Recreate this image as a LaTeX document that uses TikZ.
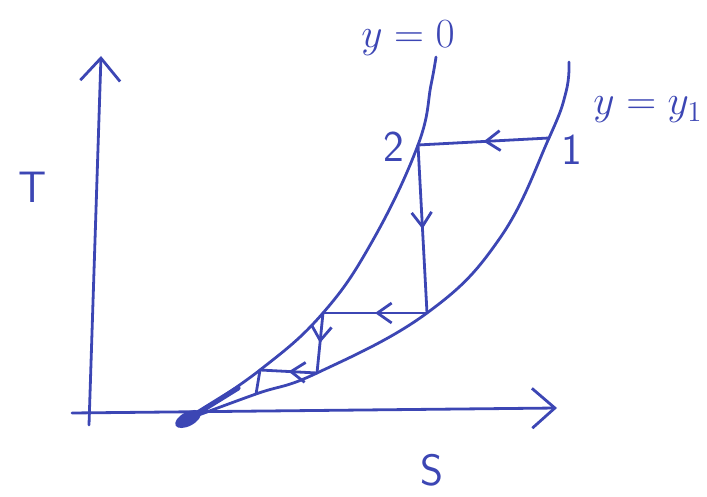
\documentclass[tikz,border=0pt]{standalone}
\usepackage{tikz}
\usetikzlibrary{arrows.meta,decorations.markings}
\definecolor{inkblue}{HTML}{3C46B4}

\begin{document}
\begin{tikzpicture}[x=0.5pt,y=-0.5pt,
          ink/.style={draw=inkblue,line width=1.4pt,line cap=round,line join=round},
          midarrow/.style={postaction={decorate},decoration={markings,
            mark=at position 0.5 with {\arrow{Straight Barb[length=2.5mm,width=3.5mm]}}}},
          lbl/.style={text=inkblue,font=\sffamily\fontsize{22}{24}\selectfont}
        ]
        \useasboundingbox (0,0) rectangle (707,497);
        % axes
        \coordinate (o) at (89,425);
        \coordinate (ttip) at (101,56);
        \coordinate (sstart) at (72,413);
        \coordinate (stip) at (557,408);
        \draw[ink,-{Straight Barb[length=4mm,width=7mm]}] (o) -- (ttip);
        \draw[ink,-{Straight Barb[length=4mm,width=7mm]}] (sstart) -- (stip);
        \node[lbl] (tlabel) at (33,187) {T};
        \node[lbl] (slabel) at (432,470) {S};
        % state points
        \coordinate (blob) at (188,419);
        \coordinate (p1) at (549,138);
        \coordinate (p2) at (418,145);
        \coordinate (p3) at (427,313);
        \coordinate (p4) at (323,313);
        \coordinate (p5) at (317,373);
        \coordinate (p6) at (260,370);
        \coordinate (p7) at (256,394);
        % the two curves
        \draw[ink] plot[smooth,tension=0.7] coordinates {(blob) (p6) (p4) (373,240) (p2) (431,85) (436,57)};
        \draw[ink] plot[smooth,tension=0.7] coordinates {(blob) (p7) (p5) (p3) (500,238) (p1) (566,92) (569,62)};
        \fill[inkblue,rotate around={28:(blob)}] (blob) ellipse [x radius=14,y radius=7];
        \draw[ink,line width=2.6pt] (blob) -- (238,388);
        % staircase
        \draw[ink,midarrow] (p1) -- (p2);
        \draw[ink,midarrow] (p2) -- (p3);
        \draw[ink,midarrow] (p3) -- (p4);
        \draw[ink,midarrow] (p4) -- (p5);
        \draw[ink,midarrow] (p5) -- (p6);
        \draw[ink] (p6) -- (p7);
        % labels
        \node[lbl] (n1) at (572,150) {1};
        \node[lbl] (n2) at (394,147) {2};
        \node[lbl] (yzero) at (408,38) {$y=0$};
        \node[lbl] (yone) at (648,110) {$y=y_1$};
      \end{tikzpicture}
\end{document}
